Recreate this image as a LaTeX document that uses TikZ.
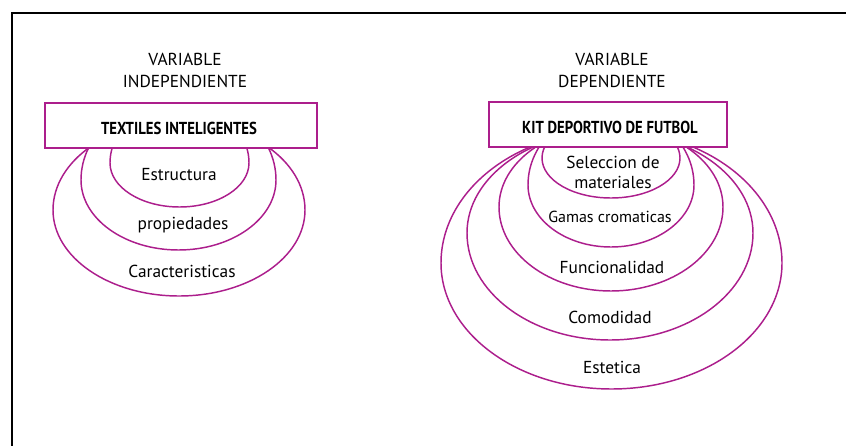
\documentclass[tikz,border=0pt]{standalone}
\usepackage{fontspec}
\setmainfont{PT Sans}
\tikzset{every picture/.style={line width=0.75pt}}
\tikzset{
  lila/.style={draw={rgb, 255:red, 172; green, 30; blue, 140 }, line width=1.1pt},
  marco/.style={draw={rgb, 255:red, 0; green, 0; blue, 0 }, line width=1.6pt},
  txt/.style={inner sep=0pt, font=\fontsize{13}{15.6}\selectfont},
  txtb/.style={inner sep=0pt, font=\fontsize{13}{15.6}\selectfont\bfseries},
}

\begin{document}
\begin{tikzpicture}[x=0.75pt,y=0.75pt,yscale=-1,xscale=1]
\useasboundingbox (0,0) rectangle (846,446);

%Shape: Frame
\draw [marco] (12,450) -- (12,13) -- (850,13) ;

%Shapes: Ellipses under the boxes
\begin{scope}
\clip (0,147.5) rectangle (846,446);
%Shape: Ellipse (Estructura)
\draw [lila] (249,163) arc [start angle=0, end angle=180, x radius=69.5, y radius=44] arc [start angle=180, end angle=360, x radius=69.5, y radius=60] ;
%Shape: Ellipse (propiedades)
\draw [lila] (276,180) arc [start angle=0, end angle=180, x radius=97.5, y radius=70] arc [start angle=180, end angle=360, x radius=97.5, y radius=83] ;
%Shape: Ellipse (Caracteristicas)
\draw [lila] (305,210) arc [start angle=0, end angle=180, x radius=126, y radius=86] arc [start angle=180, end angle=360, x radius=126, y radius=89] ;
%Shape: Ellipse (Seleccion de materiales)
\draw [lila] (680,158) arc [start angle=0, end angle=180, x radius=69, y radius=40] arc [start angle=180, end angle=360, x radius=69, y radius=40] ;
%Shape: Ellipse (Gamas cromaticas)
\draw [lila] (694,185) arc [start angle=0, end angle=180, x radius=83, y radius=62] arc [start angle=180, end angle=360, x radius=83, y radius=76] ;
%Shape: Ellipse (Funcionalidad)
\draw [lila] (723,207) arc [start angle=0, end angle=180, x radius=112, y radius=84] arc [start angle=180, end angle=360, x radius=112, y radius=81] ;
%Shape: Ellipse (Comodidad)
\draw [lila] (753,233) arc [start angle=0, end angle=180, x radius=143, y radius=107] arc [start angle=180, end angle=360, x radius=143, y radius=102] ;
%Shape: Ellipse (Estetica)
\draw [lila] (782,263) arc [start angle=0, end angle=180, x radius=170.5, y radius=126] arc [start angle=180, end angle=360, x radius=170.5, y radius=132] ;
\end{scope}

%Shape: Rectangle
\draw [lila] (45,103) rectangle (317,148) ;
%Shape: Rectangle
\draw [lila] (489,102) rectangle (727,147) ;

% Text Node
\draw (185,59) node (varA) [txt] {VARIABLE};
% Text Node
\draw (185,81) node (indep) [txt] {INDEPENDIENTE};
% Text Node
\draw (612,59) node (varB) [txt] {VARIABLE};
% Text Node
\draw (612,81) node (dep) [txt] {DEPENDIENTE};
% Text Node
\draw (179,128) node (textiles) [txtb] {\scalebox{0.85}[1]{TEXTILES INTELIGENTES}};
% Text Node
\draw (610,127) node (kit) [txtb] {\scalebox{0.85}[1]{KIT DEPORTIVO DE FUTBOL}};
% Text Node
\draw (179,175) node (estruc) [txt] {Estructura};
% Text Node
\draw (183,225) node (prop) [txt] {propiedades};
% Text Node
\draw (182,271) node (carac) [txt] {Caracteristicas};
% Text Node
\draw (613,172.5) node (selec) [txt, align=center] {Seleccion de\\materiales};
% Text Node
\draw (610,217) node (gamas) [txt, font=\fontsize{12}{14}\selectfont] {Gamas cromaticas};
% Text Node
\draw (612,267) node (funcion) [txt] {Funcionalidad};
% Text Node
\draw (610,317) node (comod) [txt] {Comodidad};
% Text Node
\draw (612,367) node (estet) [txt] {Estetica};
\end{tikzpicture}
\end{document}
